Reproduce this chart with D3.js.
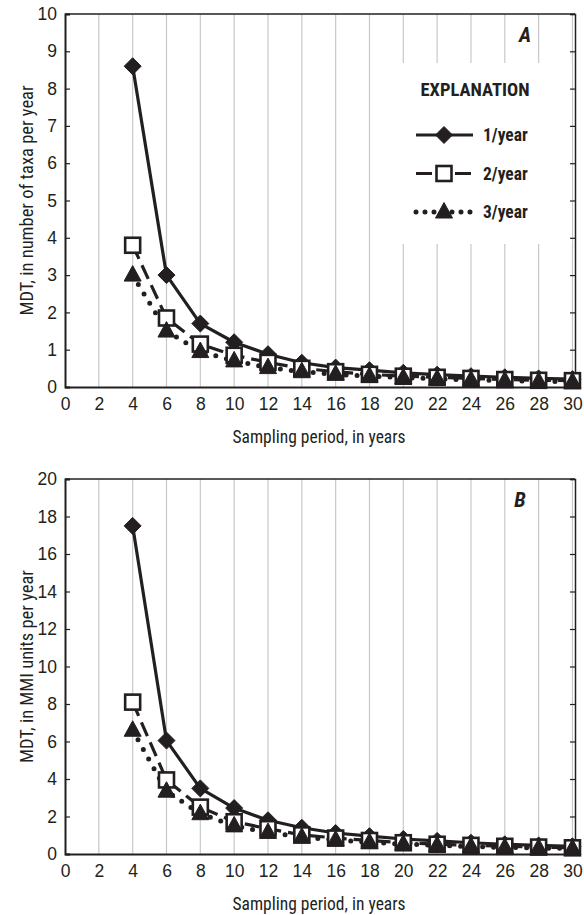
<!DOCTYPE html>
<html>
<head>
<meta charset="utf-8">
<script src="https://cdn.jsdelivr.net/npm/d3@7"></script>
<style>
  body { margin: 0; background: #fff; }
  text { font-family: "Liberation Sans Narrow", "Arial Narrow", "Roboto Condensed", sans-serif; fill: #231f20; }
</style>
</head>
<body>
<script>
// sampling period, in years
const years = [4, 6, 8, 10, 12, 14, 16, 18, 20, 22, 24, 26, 28, 30];
const xTicks = [0, 2, 4, 6, 8, 10, 12, 14, 16, 18, 20, 22, 24, 26, 28, 30];

// panel A: MDT, number of taxa per year
const taxaOne   = [8.6, 3.0, 1.7, 1.2, 0.88, 0.65, 0.52, 0.45, 0.38, 0.33, 0.29, 0.26, 0.23, 0.21];
const taxaTwo   = [3.8, 1.85, 1.15, 0.85, 0.66, 0.5, 0.41, 0.34, 0.29, 0.26, 0.23, 0.2, 0.18, 0.17];
const taxaThree = [3.0, 1.5, 0.95, 0.7, 0.52, 0.41, 0.34, 0.29, 0.25, 0.22, 0.19, 0.17, 0.15, 0.14];
const taxaTicks = [0, 1, 2, 3, 4, 5, 6, 7, 8, 9, 10];

// panel B: MDT, MMI units per year
const mmiOne   = [17.5, 6.05, 3.5, 2.45, 1.8, 1.4, 1.12, 0.95, 0.8, 0.7, 0.6, 0.52, 0.46, 0.41];
const mmiTwo   = [8.1, 3.95, 2.5, 1.72, 1.35, 1.02, 0.85, 0.72, 0.6, 0.52, 0.46, 0.41, 0.37, 0.33];
const mmiThree = [6.6, 3.35, 2.15, 1.5, 1.15, 0.9, 0.75, 0.62, 0.53, 0.46, 0.4, 0.35, 0.32, 0.29];
const mmiTicks = [0, 2, 4, 6, 8, 10, 12, 14, 16, 18, 20];

const seriesNames = ["1/year", "2/year", "3/year"];

const svg = d3.select("body").append("svg")
  .attr("width", 584)
  .attr("height", 915);

const ink = "#231f20";
const narrow = '"Liberation Sans Narrow", "Arial Narrow", sans-serif';

// draw one marker shape at 0,0
function marker(g, i) {
  if (i === 0) {
    g.append("path").attr("d", "M0,-8.5 L8.5,0 L0,8.5 L-8.5,0 Z")
      .attr("fill", ink).attr("stroke", ink).attr("stroke-width", 1);
  } else if (i === 1) {
    g.append("rect").attr("x", -7.5).attr("y", -7.5).attr("width", 15).attr("height", 15)
      .attr("fill", "#fff").attr("stroke", ink).attr("stroke-width", 2.6);
  } else {
    g.append("path").attr("d", "M0,-9.5 L8.5,6 L-8.5,6 Z")
      .attr("fill", ink).attr("stroke", ink).attr("stroke-width", 1);
  }
}

const lineStyles = [
  { dash: null, cap: "butt", width: 3.2 },
  { dash: "15,7", cap: "butt", width: 3.2 },
  { dash: "0,11", cap: "round", width: 5 }
];

function panel(opt) {
  const left = 65, right = 575;
  const x = d3.scaleLinear().domain([0, 30.15]).range([left, right]);
  const y = d3.scaleLinear().domain([0, opt.yMax]).range([opt.bottom, opt.top]);
  const g = svg.append("g");

  // vertical grid
  g.selectAll(".grid").data(xTicks.filter(d => d > 0 && d < 30.15)).enter().append("line")
    .attr("x1", d => x(d)).attr("x2", d => x(d))
    .attr("y1", opt.top).attr("y2", opt.bottom)
    .attr("stroke", "#c8c8c8").attr("stroke-width", 1.2);

  // legend box covers grid
  if (opt.legend) {
    g.append("rect").attr("x", 392).attr("y", 63).attr("width", 180).attr("height", 181)
      .attr("fill", "#fff");
  }

  // axes
  const yAxis = d3.axisLeft(y).tickValues(opt.ticks).tickSize(-5).tickPadding(8);
  const ga = g.append("g").attr("transform", `translate(${left},0)`).call(yAxis);
  ga.select(".domain").attr("stroke", ink).attr("stroke-width", 2);
  ga.selectAll(".tick line").attr("stroke", ink).attr("stroke-width", 1.2);
  ga.selectAll(".tick text").attr("font-size", 17.5).attr("fill", ink).style("font-family", narrow);

  const yRight = d3.axisRight(y).tickValues(opt.ticks).tickSize(-5).tickFormat("");
  const gr = g.append("g").attr("transform", `translate(${right},0)`).call(yRight);
  gr.select(".domain").attr("stroke", ink).attr("stroke-width", 1.5);
  gr.selectAll(".tick line").attr("stroke", ink).attr("stroke-width", 1.2);

  const xAxis = d3.axisBottom(x).tickValues(xTicks).tickSize(0).tickPadding(11);
  const gx = g.append("g").attr("transform", `translate(0,${opt.bottom})`).call(xAxis);
  gx.select(".domain").attr("stroke", ink).attr("stroke-width", 2);
  gx.selectAll(".tick text").attr("font-size", 17.5).attr("fill", ink).style("font-family", narrow);

  g.append("line").attr("x1", left).attr("x2", right).attr("y1", opt.top).attr("y2", opt.top)
    .attr("stroke", ink).attr("stroke-width", 1.5);

  // titles
  g.append("text").attr("x", 319).attr("y", opt.bottom + 56)
    .attr("text-anchor", "middle").attr("font-size", 17.5).text("Sampling period, in years");
  g.append("text")
    .attr("transform", `translate(33,${(opt.top + opt.bottom) / 2}) rotate(-90)`)
    .attr("text-anchor", "middle").attr("font-size", 18.5).text(opt.yTitle);
  g.append("text").attr("x", opt.letterX).attr("y", opt.top + 28)
    .attr("text-anchor", "middle").attr("font-size", 21).attr("font-weight", "bold")
    .attr("font-style", "italic").text(opt.letter);

  // series
  const line = d3.line().x((d, i) => x(years[i])).y(d => y(d));
  opt.series.forEach((vals, i) => {
    const st = lineStyles[i];
    g.append("path").datum(vals).attr("d", line)
      .attr("fill", "none").attr("stroke", ink).attr("stroke-width", st.width)
      .attr("stroke-linecap", st.cap).attr("stroke-linejoin", "round")
      .attr("stroke-dasharray", st.dash);
  });
  opt.series.forEach((vals, i) => {
    vals.forEach((v, j) => {
      const m = g.append("g").attr("transform", `translate(${x(years[j])},${y(v)})`);
      marker(m, i);
    });
  });

  if (opt.legend) {
    g.append("text").attr("x", 475).attr("y", 96).attr("text-anchor", "middle")
      .attr("font-size", 18.5).attr("font-weight", "bold").text("EXPLANATION");
    seriesNames.forEach((name, i) => {
      const ly = 135 + i * 38.5;
      const st = lineStyles[i];
      g.append("line").attr("x1", 416).attr("x2", 473).attr("y1", ly).attr("y2", ly)
        .attr("stroke", ink).attr("stroke-width", st.width)
        .attr("stroke-linecap", st.cap)
        .attr("stroke-dasharray", i === 1 ? "16,11,0,12" : (i === 2 ? "0,9" : null));
      const m = g.append("g").attr("transform", `translate(444,${ly})`);
      marker(m, i);
      g.append("text").attr("x", 483).attr("y", ly + 6)
        .attr("font-size", 17.5).attr("font-weight", "bold").text(name);
    });
  }
}

panel({ top: 14, bottom: 387, yMax: 10, ticks: taxaTicks,
  series: [taxaOne, taxaTwo, taxaThree], yTitle: "MDT, in number of taxa per year",
  letter: "A", letterX: 525, legend: true });

panel({ top: 479, bottom: 854, yMax: 20, ticks: mmiTicks,
  series: [mmiOne, mmiTwo, mmiThree], yTitle: "MDT, in MMI units per year",
  letter: "B", letterX: 520, legend: false });
</script>
</body>
</html>
